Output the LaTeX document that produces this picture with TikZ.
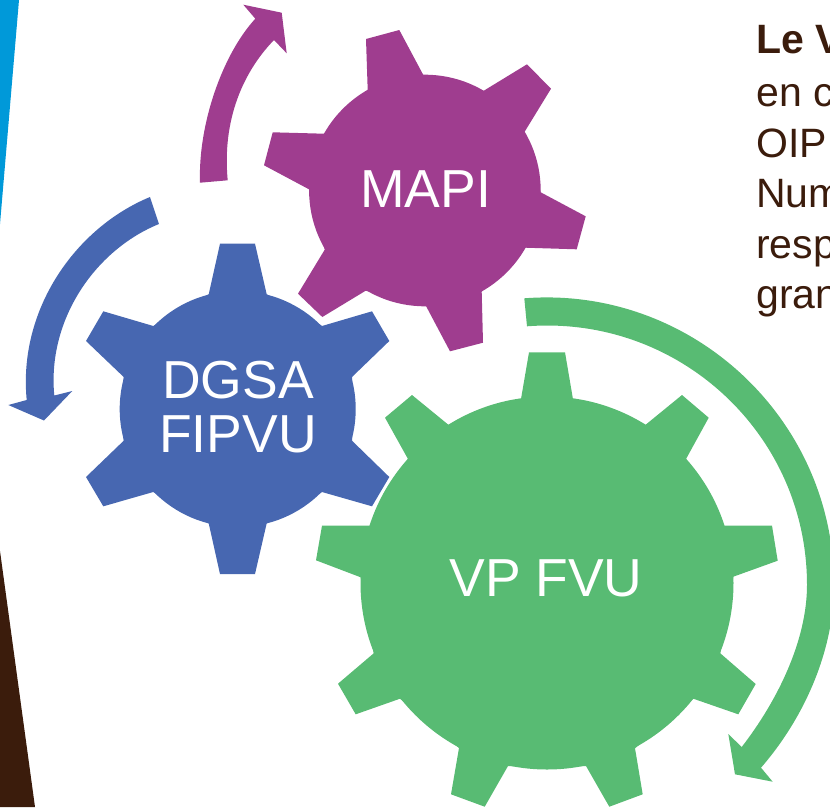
\documentclass[tikz,border=0pt]{standalone}
\usepackage{fontspec}
\setmainfont{Liberation Sans}
\definecolor{gblue}{HTML}{4767B1}
\definecolor{gmag}{HTML}{9F3D8F}
\definecolor{ggreen}{HTML}{58BB73}
\definecolor{brownc}{HTML}{3B1C0C}
\definecolor{skyc}{HTML}{0099D9}
\tikzset{
  gearlabel/.style={text=white,font=\fontsize{53.5}{56}\selectfont,inner sep=0pt,align=center},
  bodytext/.style={text=brownc,font=\fontsize{41}{48}\selectfont,inner sep=0pt,anchor=base west},
}
\begin{document}
\begin{tikzpicture}[x=1pt,y=-1pt]
\useasboundingbox (0,0) rectangle (830,807);
\begin{scope}
\clip (0,0) rectangle (830,807);
% corner decorations
\fill[skyc] (0,0) -- (19,0) -- (0,224) -- cycle;
\fill[brownc] (0,551) -- (35,807) -- (0,807) -- cycle;
% body text, cut by the slide edge
\node[bodytext] (t1) at (756,53) {\textbf{Le V}};
\node[bodytext] (t2) at (756,106) {en c};
\node[bodytext] (t3) at (756,157) {OIP};
\node[bodytext] (t4) at (756,207) {Num};
\node[bodytext] (t5) at (756,258) {resp};
\node[bodytext] (t6) at (756,308) {gran};
% green gear
\fill[ggreen] (547,583) circle[radius=186.5pt];
\fill[ggreen] (521,399) -- (529,352.3) -- (565,352.3) -- (573,399.3)
  -- (645.3,425) -- (682,395) -- (708.7,417.7) -- (686,459)
  -- (724,525.7) -- (772,525.7) -- (777.7,560.7) -- (733.3,576.7)
  -- (720.3,653.3) -- (755.7,684) -- (738.3,714.3) -- (693.3,698.7)
  -- (635,748.3) -- (642.7,794.3) -- (609.3,806.7) -- (586,766)
  -- (508,766) -- (484.7,806.7) -- (451,794.3) -- (459,748)
  -- (400,698.7) -- (355.7,714.3) -- (338,683.7) -- (373.7,653.3)
  -- (360.7,577.3) -- (316,560.3) -- (322,525.7) -- (370,525.7)
  -- (408,459) -- (385,417.7) -- (412,395) -- (448.7,425) -- cycle;
% blue gear
\fill[gblue] (237.7,409) circle[radius=118pt];
\fill[gblue] (208.7,294.3) -- (220,243.7) -- (255,243.7) -- (266.7,294.3)
  -- (322,326) -- (372,311.3) -- (389.3,341) -- (352,377)
  -- (352,440.7) -- (389.3,477) -- (372,506.3) -- (322,492)
  -- (266.7,523.3) -- (255,574) -- (220,574) -- (208.7,523.3)
  -- (153.3,492) -- (103.3,506.3) -- (86,477) -- (123.7,440.7)
  -- (123.7,377) -- (86,341) -- (103.3,311.3) -- (153.3,326) -- cycle;
% magenta gear
\fill[gmag] (424.9,190.5) circle[radius=115.8pt];
\fill[gmag] (367.7,90) -- (366,39) -- (399.3,30) -- (423.3,75)
  -- (483.3,91) -- (527,64.3) -- (551,88.7) -- (524.3,132.3)
  -- (540.7,192.3) -- (585.7,216.3) -- (576.7,249.3) -- (525.3,247.7)
  -- (481.7,291.7) -- (483,342.7) -- (450,351.3) -- (426,306)
  -- (365.7,290.7) -- (322.3,317) -- (298,293.7) -- (324.7,249.7)
  -- (309,189.3) -- (264,165.3) -- (272.7,132.3) -- (324,133.7) -- cycle;
% curved arrows
\fill[gmag] (200,182.7) .. controls (198,125) and (222,55) .. (255.3,18.7)
  -- (243.3,4.7) -- (281.7,12.7) -- (286.7,53.3) -- (274,40)
  .. controls (243,72) and (222,120) .. (227.7,180.3) -- cycle;
\fill[gblue] (150,197) .. controls (75,228) and (18,310) .. (26.7,400)
  -- (8.3,405) -- (44,420.5) -- (72.3,391) -- (54.3,395.5)
  .. controls (47,320) and (95,250) .. (159,224) -- cycle;
\fill[ggreen] (524.3,298.3) .. controls (690.8,285.3) and (834,418) .. (834,585)
  .. controls (834,650) and (805,717) .. (761,767.7)
  -- (772.7,781.7) -- (735,774.3) -- (728.3,734) -- (741.7,747)
  .. controls (778,700) and (807,640) .. (807,585)
  .. controls (807,433.4) and (678,314.7) .. (527,326.3) -- cycle;
% gear labels
\node[gearlabel,anchor=base] (mapi) at (425.5,207.7) {MAPI};
\node[gearlabel,anchor=base] (dgsa) at (238,398) {DGSA};
\node[gearlabel,anchor=base] (fipvu) at (238,452.7) {FIPVU};
\node[gearlabel,anchor=base] (vpfvu) at (546,596.7) {VP FVU};
\end{scope}
\end{tikzpicture}
\end{document}
